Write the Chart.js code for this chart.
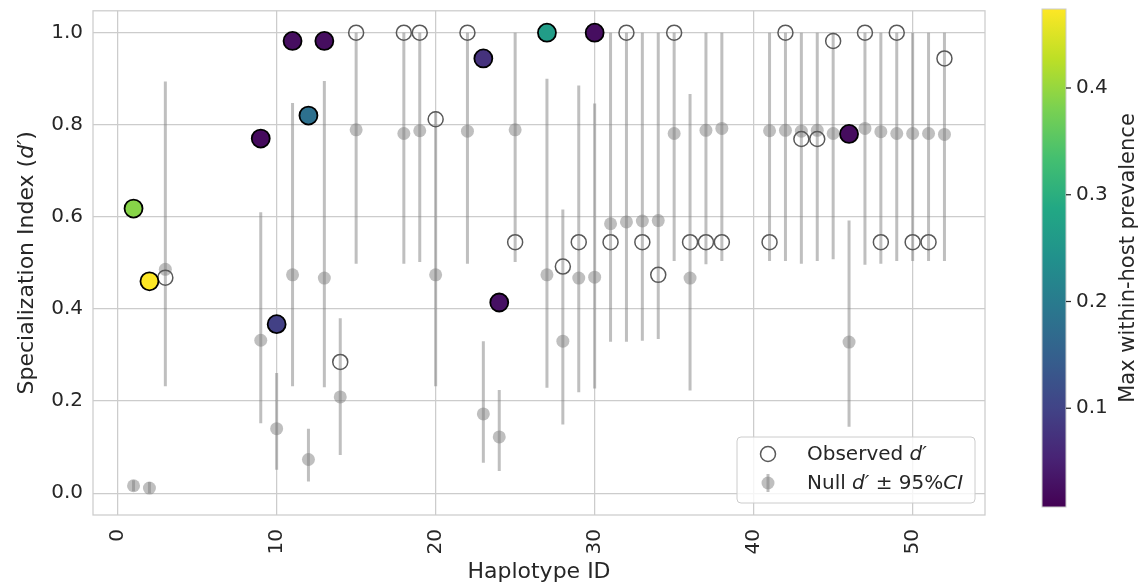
<!DOCTYPE html>
<html>
<head>
<meta charset="utf-8">
<script src="https://cdn.jsdelivr.net/npm/chart.js@4.4.1/dist/chart.umd.min.js"></script>
<style>
  body { margin: 0; background: #fff; }
</style>
</head>
<body>
<canvas id="myChart" width="1145" height="588"></canvas>
<script>
// haplotypes shown on the plot
var hapIds = [1, 2, 3, 9, 10, 11, 12, 13, 14, 15, 18, 19, 20, 22, 23, 24, 25, 27, 28, 29, 30,
              31, 32, 33, 34, 35, 36, 37, 38, 41, 42, 43, 44, 45, 46, 47, 48, 49, 50, 51, 52];

// observed d'
var observed = [0.618, 0.460, 0.468, 0.770, 0.367, 0.982, 0.820, 0.982, 0.285, 1.0, 1.0, 1.0, 0.812, 1.0, 0.944, 0.414, 0.545, 1.0, 0.492, 0.545, 1.0,
                0.545, 1.0, 0.545, 0.474, 1.0, 0.545, 0.545, 0.545, 0.545, 1.0, 0.769, 0.769, 0.982, 0.780, 1.0, 0.545, 1.0, 0.545, 0.545, 0.944];

// null d' mean and 95% CI
var nullMean = [0.016, 0.011, 0.486, 0.332, 0.140, 0.474, 0.073, 0.467, 0.209, 0.789, 0.781, 0.787, 0.474, 0.786, 0.172, 0.122, 0.789, 0.474, 0.330, 0.467, 0.469,
                0.585, 0.589, 0.591, 0.592, 0.781, 0.467, 0.788, 0.792, 0.787, 0.788, 0.786, 0.788, 0.781, 0.328, 0.792, 0.785, 0.781, 0.781, 0.781, 0.779];
var nullLo = [0.004, 0.000, 0.232, 0.152, 0.051, 0.232, 0.025, 0.230, 0.083, 0.498, 0.498, 0.502, 0.232, 0.498, 0.066, 0.048, 0.502, 0.229, 0.149, 0.219, 0.227,
              0.329, 0.329, 0.331, 0.335, 0.504, 0.223, 0.497, 0.504, 0.504, 0.504, 0.498, 0.504, 0.508, 0.144, 0.496, 0.498, 0.504, 0.504, 0.504, 0.504];
var nullHi = [0.028, 0.024, 0.894, 0.610, 0.261, 0.847, 0.140, 0.895, 0.380, 1.0, 1.0, 1.0, 0.830, 1.0, 0.330, 0.224, 1.0, 0.900, 0.616, 0.885, 0.846,
              1.0, 1.0, 1.0, 1.0, 1.0, 0.867, 1.0, 1.0, 1.0, 1.0, 1.0, 1.0, 1.0, 0.592, 1.0, 1.0, 1.0, 1.0, 1.0, 1.0];

// max within-host prevalence (null = not coloured)
var prevalence = [0.390, 0.474, null, 0.020, 0.095, 0.025, 0.180, 0.025, null, null, null, null, null, null, 0.075, 0.028, null, 0.265, null, null, 0.025,
                  null, null, null, null, null, null, null, null, null, null, null, null, null, 0.022, null, null, null, null, null, null];

var xTicks = [0, 10, 20, 30, 40, 50];
var yTicks = [0, 0.2, 0.4, 0.6, 0.8, 1.0];
var cbTicks = [0.1, 0.2, 0.3, 0.4];
var cbMin = 0.0075, cbMax = 0.474;

var FONT = '"DejaVu Sans", sans-serif';
var TXT = '#262626';

var viridisStops = ['#440154', '#482475', '#414487', '#355f8d', '#2a788e', '#21918c',
                    '#22a884', '#44bf70', '#7ad151', '#bddf26', '#fde725'];

function hexRgb(h) {
    return [parseInt(h.substr(1, 2), 16), parseInt(h.substr(3, 2), 16), parseInt(h.substr(5, 2), 16)];
}
function viridis(t) {
    t = Math.max(0, Math.min(1, t));
    var p = t * 10, i = Math.min(9, Math.floor(p)), f = p - i;
    var a = hexRgb(viridisStops[i]), b = hexRgb(viridisStops[i + 1]);
    return 'rgb(' + Math.round(a[0] + (b[0] - a[0]) * f) + ',' + Math.round(a[1] + (b[1] - a[1]) * f) + ',' + Math.round(a[2] + (b[2] - a[2]) * f) + ')';
}

// build datasets
var errPts = [], nullPts = [], obsPts = [], colPts = [], colColors = [];
for (var i = 0; i < hapIds.length; i++) {
    errPts.push({x: hapIds[i], y: nullLo[i]}, {x: hapIds[i], y: nullHi[i]}, {x: hapIds[i], y: null});
    nullPts.push({x: hapIds[i], y: nullMean[i]});
    if (prevalence[i] === null) {
        obsPts.push({x: hapIds[i], y: observed[i]});
    } else {
        colPts.push({x: hapIds[i], y: observed[i]});
        colColors.push(viridis((prevalence[i] - cbMin) / (cbMax - cbMin)));
    }
}

function richText(ctx, parts, x, y, size, align) {
    var total = 0, widths = [];
    parts.forEach(function (p) {
        ctx.font = (p[1] ? 'oblique ' : '') + size + 'px ' + FONT;
        var w = ctx.measureText(p[0]).width;
        widths.push(w); total += w;
    });
    var cx = align === 'center' ? x - total / 2 : x;
    ctx.textAlign = 'left';
    parts.forEach(function (p, k) {
        ctx.font = (p[1] ? 'oblique ' : '') + size + 'px ' + FONT;
        ctx.fillText(p[0], cx, y);
        cx += widths[k];
    });
}

var decor = {
    id: 'decor',
    beforeDatasetsDraw: function (chart) {
        var a = chart.chartArea, ctx = chart.ctx;
        ctx.save();
        ctx.strokeStyle = '#cccccc';
        ctx.lineWidth = 1.25;
        ctx.strokeRect(a.left, a.top, a.right - a.left, a.bottom - a.top);
        ctx.restore();
    },
    afterDraw: function (chart) {
        var a = chart.chartArea, ctx = chart.ctx;
        ctx.save();
        ctx.fillStyle = TXT;
        ctx.textBaseline = 'middle';

        // y axis title
        ctx.save();
        ctx.translate(27, (a.top + a.bottom) / 2);
        ctx.rotate(-Math.PI / 2);
        richText(ctx, [['Specialization Index (', false], ['d\u2032', true], [')', false]], 0, 0, 22, 'center');
        ctx.restore();

        // legend
        var lx = 737, ly = 437, lw = 238, lh = 66;
        ctx.beginPath();
        ctx.roundRect(lx, ly, lw, lh, 4);
        ctx.fillStyle = 'rgba(255,255,255,0.8)';
        ctx.fill();
        ctx.strokeStyle = '#cccccc';
        ctx.lineWidth = 1;
        ctx.stroke();

        ctx.beginPath();
        ctx.arc(768, 454, 7.5, 0, Math.PI * 2);
        ctx.strokeStyle = '#595959';
        ctx.lineWidth = 1.5;
        ctx.stroke();

        ctx.strokeStyle = 'rgba(128,128,128,0.5)';
        ctx.lineWidth = 3;
        ctx.beginPath();
        ctx.moveTo(768, 474); ctx.lineTo(768, 492);
        ctx.stroke();
        ctx.beginPath();
        ctx.arc(768, 483, 6.5, 0, Math.PI * 2);
        ctx.fillStyle = 'rgba(128,128,128,0.5)';
        ctx.fill();

        ctx.fillStyle = TXT;
        richText(ctx, [['Observed ', false], ['d\u2032', true]], 807, 455, 20, 'left');
        richText(ctx, [['Null ', false], ['d\u2032', true], [' \u00b1 95%', false], ['CI', true]], 807, 484, 20, 'left');

        // colorbar
        var cx0 = 1042, cx1 = 1066, cTop = 9, cBot = 507;
        var grad = ctx.createLinearGradient(0, cBot, 0, cTop);
        viridisStops.forEach(function (c, k) { grad.addColorStop(k / 10, c); });
        ctx.fillStyle = grad;
        ctx.fillRect(cx0, cTop, cx1 - cx0, cBot - cTop);
        ctx.strokeStyle = '#cccccc';
        ctx.lineWidth = 1;
        ctx.strokeRect(cx0, cTop, cx1 - cx0, cBot - cTop);

        ctx.fillStyle = TXT;
        ctx.strokeStyle = TXT;
        ctx.lineWidth = 1.25;
        ctx.font = '20px ' + FONT;
        ctx.textAlign = 'left';
        cbTicks.forEach(function (v) {
            var yy = cBot - (v - cbMin) / (cbMax - cbMin) * (cBot - cTop);
            ctx.beginPath();
            ctx.moveTo(cx1, yy); ctx.lineTo(cx1 + 5, yy);
            ctx.stroke();
            ctx.fillText(v.toFixed(1), cx1 + 10, yy);
        });

        ctx.save();
        ctx.translate(1129, (cTop + cBot) / 2);
        ctx.rotate(-Math.PI / 2);
        ctx.textAlign = 'center';
        ctx.font = '21px ' + FONT;
        ctx.fillText('Max within-host prevalence', 0, 0);
        ctx.restore();

        ctx.restore();
    }
};

var ctx = document.getElementById('myChart').getContext('2d');
var myChart = new Chart(ctx, {
    type: 'scatter',
    data: {
        datasets: [{
            label: 'Observed coloured',
            data: colPts,
            order: 0,
            pointRadius: 9,
            pointBackgroundColor: colColors,
            pointBorderColor: '#000000',
            pointBorderWidth: 1.8
        }, {
            label: 'Observed',
            data: obsPts,
            order: 1,
            pointRadius: 7.5,
            pointBackgroundColor: 'rgba(0,0,0,0)',
            pointBorderColor: '#595959',
            pointBorderWidth: 1.5
        }, {
            label: 'Null',
            data: nullPts,
            order: 2,
            pointRadius: 6.5,
            pointBackgroundColor: 'rgba(128,128,128,0.5)',
            pointBorderWidth: 0
        }, {
            label: 'CI',
            data: errPts,
            order: 3,
            showLine: true,
            spanGaps: false,
            borderColor: 'rgba(128,128,128,0.5)',
            borderWidth: 3,
            pointRadius: 0
        }]
    },
    options: {
        responsive: false,
        animation: false,
        events: [],
        layout: { padding: { left: 0, top: 8, right: 160, bottom: 0 } },
        plugins: {
            legend: { display: false },
            tooltip: { enabled: false }
        },
        scales: {
            x: {
                type: 'linear',
                min: -1.55,
                max: 54.55,
                afterBuildTicks: function (s) { s.ticks = xTicks.map(function (v) { return {value: v}; }); },
                afterFit: function (s) { s.height = 73; s.paddingLeft = 0; s.paddingRight = 0; },
                grid: { color: '#cccccc', lineWidth: 1.25, drawTicks: false },
                border: { display: false },
                ticks: {
                    minRotation: 90, maxRotation: 90, padding: 14,
                    color: TXT, font: { family: FONT, size: 20 },
                    callback: function (v) { return String(v); }
                },
                title: {
                    display: true, text: 'Haplotype ID', color: TXT,
                    font: { family: FONT, size: 22 },
                    padding: { top: 4, bottom: 3 }
                }
            },
            y: {
                type: 'linear',
                min: -0.0475,
                max: 1.0475,
                afterBuildTicks: function (s) { s.ticks = yTicks.map(function (v) { return {value: v}; }); },
                afterFit: function (s) { s.width = 93; s.paddingTop = 0; s.paddingBottom = 0; },
                grid: { color: '#cccccc', lineWidth: 1.25, drawTicks: false },
                border: { display: false },
                ticks: {
                    padding: 10,
                    color: TXT, font: { family: FONT, size: 20 },
                    callback: function (v) { return v.toFixed(1); }
                }
            }
        }
    },
    plugins: [decor]
});
</script>
</body>
</html>
